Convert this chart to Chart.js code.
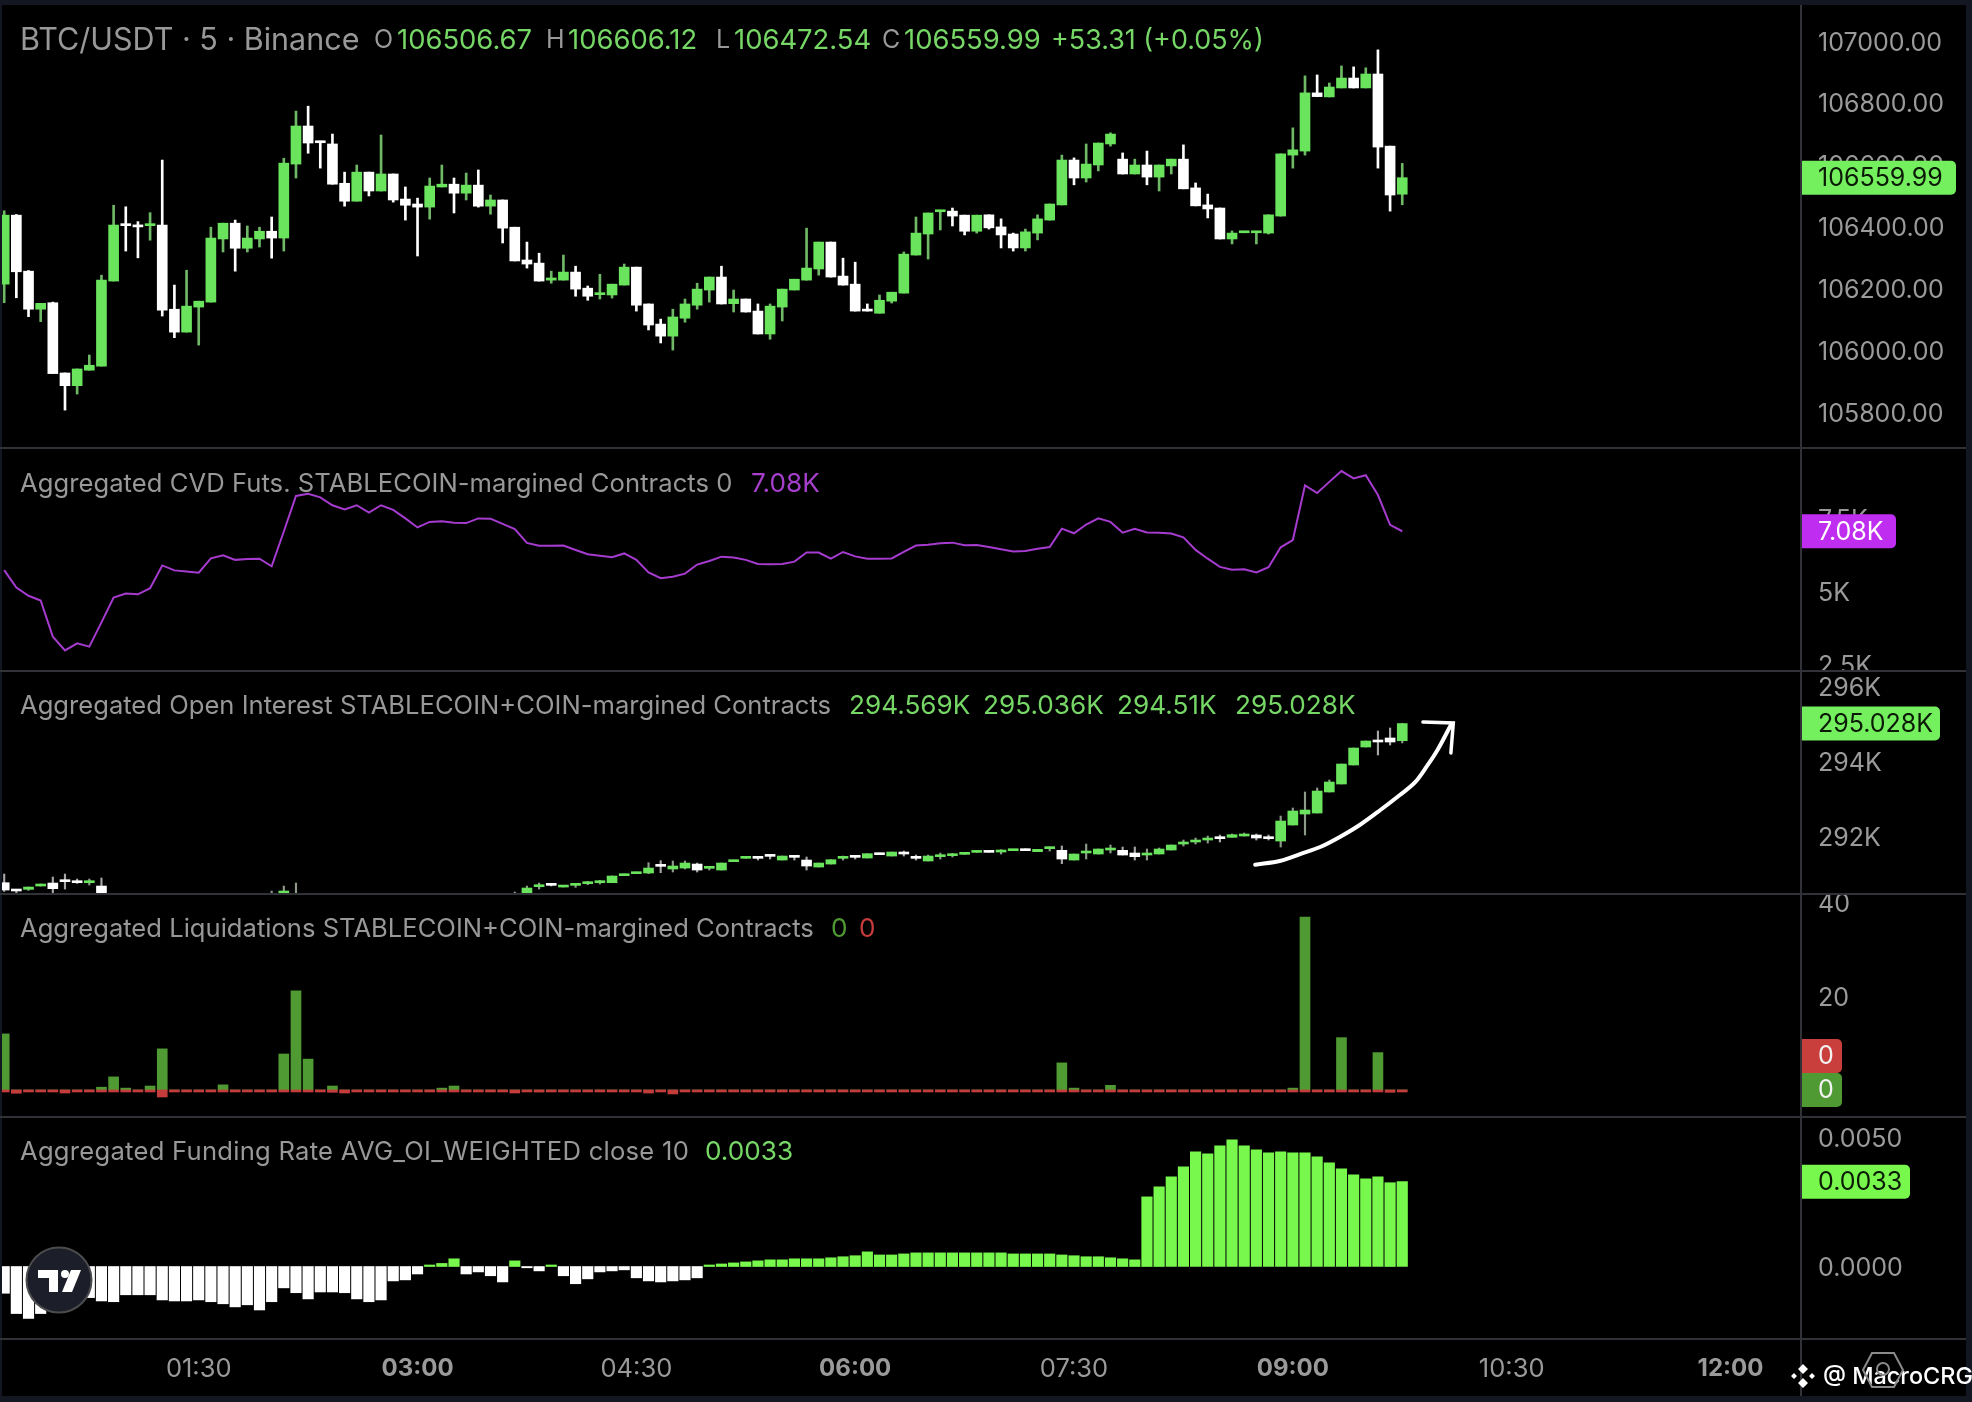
<!DOCTYPE html>
<html><head><meta charset="utf-8">
<script src="https://cdn.jsdelivr.net/npm/chart.js@4"></script>
<style>
html,body{margin:0;padding:0;background:#000;width:1972px;height:1402px;overflow:hidden;font-family:Inter,sans-serif}
canvas{position:absolute;left:0}
.band{position:absolute;background:#131722;z-index:3}
.rule{position:absolute;background:#303238;z-index:4}
.t{position:absolute;white-space:pre;z-index:5;font-size:25.6px;line-height:30px;color:#989898}
.v{font-size:26.2px}
.h{font-size:27.6px}
.g{color:#76d766}.p{color:#a63fcb}.dg{color:#4f9a33}.dr{color:#c43c3b}
</style></head><body>
<div class="band" style="left:0;top:0;width:1972px;height:5px"></div>
<div class="band" style="left:0;top:0;width:2px;height:1402px"></div>
<div class="band" style="left:1966px;top:0;width:6px;height:1402px"></div>
<div class="band" style="left:0;top:1396px;width:1972px;height:6px"></div>
<div class="rule" style="left:1800px;top:5px;width:2px;height:1391px"></div>
<div class="rule" style="left:0;top:447px;width:1966px;height:2px"></div>
<div class="rule" style="left:0;top:670px;width:1966px;height:2px"></div>
<div class="rule" style="left:0;top:893px;width:1966px;height:2px"></div>
<div class="rule" style="left:0;top:1116px;width:1966px;height:2px"></div>
<div class="rule" style="left:0;top:1338px;width:1966px;height:2px"></div>

<div class="t" style="left:20px;top:24px;font-size:30.5px">BTC/USDT · 5 · Binance</div>
<div class="t h" style="left:374px;top:24px;font-size:25px">O</div><div class="t g h" style="left:397px;top:24px;font-size:27.4px">106506.67</div>
<div class="t h" style="left:546px;top:24px;font-size:25px">H</div><div class="t g h" style="left:568px;top:24px;font-size:27.4px">106606.12</div>
<div class="t h" style="left:716px;top:24px;font-size:25px">L</div><div class="t g h" style="left:734px;top:24px;font-size:27.4px">106472.54</div>
<div class="t h" style="left:882px;top:24px;font-size:25px">C</div><div class="t g h" style="left:904px;top:24px;font-size:27.4px">106559.99</div>
<div class="t g" style="left:1051px;top:24px;font-size:26.9px">+53.31 (+0.05%)</div>

<div class="t" style="left:20px;top:468px;letter-spacing:.05px">Aggregated CVD Futs. STABLECOIN-margined Contracts 0</div>
<div class="t p v" style="left:751px;top:468px">7.08K</div>

<div class="t" style="left:20px;top:690px">Aggregated Open Interest STABLECOIN+COIN-margined Contracts</div>
<div class="t g v" style="left:849px;top:690px">294.569K</div>
<div class="t g v" style="left:983px;top:690px">295.036K</div>
<div class="t g v" style="left:1117px;top:690px">294.51K</div>
<div class="t g v" style="left:1235px;top:690px">295.028K</div>

<div class="t" style="left:20px;top:913px">Aggregated Liquidations STABLECOIN+COIN-margined Contracts</div>
<div class="t dg v" style="left:831px;top:913px">0</div>
<div class="t dr v" style="left:859px;top:913px">0</div>

<div class="t" style="left:20px;top:1136px;letter-spacing:.26px">Aggregated Funding Rate AVG_OI_WEIGHTED close 10</div>
<div class="t g v" style="left:705px;top:1136px">0.0033</div>

<svg style="position:absolute;left:24px;top:1246px;z-index:6" width="70" height="70" viewBox="0 0 70 70">
<circle cx="35" cy="34" r="32.5" fill="#1c1f2a" stroke="#4c4c4e" stroke-width="2"/>
<path d="M14 24h20v22h-9V32H14z" fill="#fff"/><circle cx="41" cy="28" r="4" fill="#fff"/><path d="M47 24h10l-9 22H38z" fill="#fff"/>
</svg>
<svg style="position:absolute;left:1860px;top:1350px;z-index:6" width="46" height="40" viewBox="0 0 46 40">
<path d="M12 3h22l9 17-9 17H12L3 20z" fill="none" stroke="#8a8a8a" stroke-width="2"/><circle cx="23" cy="19" r="6" fill="none" stroke="#8a8a8a" stroke-width="2"/>
</svg>
<svg style="position:absolute;left:1789px;top:1362px;z-index:6" width="28" height="28" viewBox="0 0 28 28">
<path d="M14 2l5 5-5 5-5-5zM5 11l3 3-3 3-3-3zM23 11l3 3-3 3-3-3zM14 16l5 5-5 5-5-5z" fill="#fff"/>
</svg>
<div class="t" style="left:1823px;top:1361px;color:#fff;font-size:23.4px;font-weight:500">@ MacroCRG</div>

<canvas id="c0" style="top:5px" width="1966" height="443"></canvas>
<canvas id="c1" style="top:448px" width="1966" height="223"></canvas>
<canvas id="c2" style="top:671px" width="1966" height="223"></canvas>
<canvas id="c3" style="top:894px" width="1966" height="223"></canvas>
<canvas id="c4" style="top:1117px" width="1966" height="279"></canvas>

<script>
const priceOpen=[106216,106439,106258,106135,106156,105929,105888,105938,105951,106226,
106409,106407,106405,106407,106135,106061,106142,106158,106362,106413,
106332,106362,106387,106365,106604,106727,106678,106669,106542,106484,
106578,106517,106572,106491,106475,106465,106530,106539,106510,106536,
106468,106488,106400,106294,106284,106229,106229,106255,106203,106182,
106181,106213,106271,106152,106087,106048,106106,106148,106197,106239,
106153,106168,106129,106055,106142,106197,106229,106265,106352,106242,
106216,106134,106122,106161,106187,106310,106378,106450,106452,106439,
106387,106440,106401,106378,106333,106381,106423,106472,106617,106559,
106601,106669,106620,106572,106601,106562,106598,106620,106527,106472,
106462,106362,106382,106382,106381,106436,106633,106646,106834,106821,
106850,106882,106850,106895,106662,106506.67];
const priceHigh=[106453,106441,106260,106154,106158,105929,105942,105987,106245,106471,
106466,106418,106447,106617,106213,106261,106161,106400,106413,106423,
106404,106400,106433,106623,106775,106791,106678,106701,106578,106601,
106578,106698,106572,106530,106494,106559,106601,106559,106575,106585,
106504,106488,106400,106352,106316,106258,106310,106274,106210,106248,
106216,106281,106271,106152,106103,106135,106168,106219,106239,106274,
106197,106168,106152,106152,106200,106232,106397,106352,106352,106300,
106287,106152,106181,106190,106320,106433,106446,106454,106462,106439,
106439,106440,106427,106381,106394,106440,106475,106633,106624,106669,
106672,106705,106640,106620,106646,106601,106620,106666,106543,106507,
106462,106388,106387,106387,106440,106637,106721,106889,106892,106866,
106921,106918,106915,106973,106662,106606.12];
const priceLow=[106156,106172,106111,106095,105927,105809,105861,105938,105951,106226,
106323,106301,106358,106113,106043,106061,106019,106158,106320,106258,
106320,106336,106300,106323,106559,106639,106591,106539,106468,106484,
106501,106517,106481,106423,106307,106426,106530,106446,106488,106465,
106442,106349,106291,106268,106226,106219,106229,106177,106164,106168,
106171,106213,106129,106068,106026,106003,106093,106135,106158,106152,
106126,106126,106055,106038,106097,106197,106229,106245,106239,106213,
106129,106129,106122,106155,106187,106310,106297,106391,106404,106375,
106381,106394,106333,106323,106323,106359,106423,106472,106537,106546,
106582,106662,106572,106572,106537,106517,106572,106524,106469,106430,
106362,106346,106382,106346,106378,106436,106591,106633,106822,106821,
106850,106850,106850,106591,106452,106472.54];
const priceClose=[106439,106256,106135,106154,105927,105888,105942,105954,106229,106407,
106405,106401,106409,106132,106061,106145,106161,106365,106413,106332,
106365,106387,106365,106607,106727,106672,106673,106539,106484,106578,
106517,106572,106488,106471,106465,106533,106539,106510,106536,106468,
106488,106397,106291,106281,106226,106236,106255,106200,106177,106187,
106216,106271,106148,106084,106048,106110,106152,106200,106239,106152,
106168,106126,106055,106145,106200,106232,106268,106352,106239,106213,
106129,106129,106164,106190,106313,106381,106446,106454,106436,106387,
106439,106398,106375,106333,106385,106427,106475,106617,106559,106604,
106672,106701,106572,106601,106562,106601,106620,106524,106469,106459,
106362,106381,106387,106387,106440,106637,106650,106834,106822,106853,
106882,106850,106895,106659,106504,106559.99];

const cvdValues=[5.75,5.15,4.87,4.71,3.47,3.00,3.24,3.13,3.96,4.81,
4.95,4.92,5.13,5.91,5.74,5.70,5.66,6.15,6.26,6.10,
6.13,6.14,5.88,7.07,8.29,8.36,8.24,7.97,7.83,7.97,
7.72,7.97,7.81,7.52,7.21,7.40,7.42,7.37,7.36,7.52,
7.51,7.33,7.15,6.68,6.58,6.58,6.59,6.44,6.29,6.24,
6.19,6.32,6.10,5.67,5.47,5.52,5.63,5.94,6.06,6.21,
6.18,6.10,5.96,5.95,5.96,6.04,6.35,6.35,6.14,6.37,
6.22,6.14,6.14,6.15,6.37,6.59,6.62,6.67,6.69,6.60,
6.61,6.54,6.46,6.39,6.40,6.48,6.54,7.17,7.01,7.31,
7.52,7.40,7.03,7.16,7.04,7.03,7.00,6.87,6.44,6.14,
5.86,5.76,5.78,5.67,5.85,6.53,6.78,8.65,8.39,8.77,
9.14,8.89,9.00,8.32,7.30,7.08];

const oiOpen=[290.773,290.595,290.595,290.684,290.764,290.836,290.818,290.773,290.684,
null,null,null,null,null,null,null,null,null,null,null,null,null,null,290.488,null,
null,null,null,null,null,null,null,null,null,null,null,null,null,null,null,null,null,null,
290.506,290.666,290.738,290.657,290.702,290.747,290.773,290.773,290.961,291.014,
291.032,291.246,291.139,291.165,291.272,291.157,291.112,291.335,291.424,291.451,
291.513,291.379,291.486,291.379,291.192,291.272,291.424,291.486,291.433,
291.558,291.486,291.567,291.460,291.353,291.469,291.495,291.531,291.584,
291.620,291.593,291.629,291.674,291.602,291.683,291.638,291.379,291.567,291.540,
291.647,291.638,291.567,291.513,291.540,291.647,291.807,291.861,291.914,291.994,
291.986,292.021,292.048,292.003,291.887,292.315,292.609,292.636,293.198,293.412,
293.920,294.401,294.588,294.642,294.569];
const oiHigh=[291.005,290.595,290.657,290.738,290.925,291.005,290.871,290.871,290.898,
null,null,null,null,null,null,null,null,null,null,null,null,null,290.55,290.684,290.764,
null,null,null,null,null,null,null,null,null,null,null,null,null,null,null,null,null,290.524,
290.684,290.764,290.756,290.693,290.756,290.809,290.836,290.952,291.005,291.059,
291.308,291.362,291.353,291.353,291.299,291.201,291.299,291.379,291.460,291.460,
291.522,291.486,291.495,291.460,291.299,291.388,291.486,291.495,291.549,
291.567,291.593,291.620,291.513,291.513,291.567,291.558,291.567,291.620,
291.629,291.656,291.665,291.683,291.665,291.727,291.754,291.540,291.807,291.674,
291.781,291.727,291.727,291.674,291.700,291.781,291.914,291.968,292.021,292.048,
292.075,292.101,292.075,292.048,292.556,292.770,293.198,293.305,293.519,293.946,
294.374,294.561,294.829,294.909,295.036];
const oiLow=[290.54,290.488,290.568,290.684,290.488,290.604,290.756,290.711,290.488,
null,null,null,null,null,null,null,null,null,null,null,null,null,290.3,290.488,290.3,
null,null,null,null,null,null,null,null,null,null,null,null,null,null,null,null,null,290.3,
290.488,290.604,290.684,290.657,290.649,290.720,290.738,290.773,290.961,291.014,
291.014,291.041,291.059,291.139,291.059,291.112,291.112,291.335,291.424,291.379,
291.406,291.379,291.379,291.112,291.192,291.272,291.379,291.406,291.433,
291.522,291.486,291.486,291.379,291.353,291.406,291.460,291.531,291.584,
291.584,291.540,291.629,291.629,291.602,291.620,291.281,291.379,291.406,291.540,
291.567,291.513,291.379,291.379,291.540,291.647,291.754,291.807,291.834,291.861,
291.986,292.021,291.914,291.914,291.727,292.315,292.048,292.636,293.198,293.412,
293.920,294.401,294.187,294.454,294.51];
const oiClose=[290.577,290.551,290.657,290.738,290.613,290.800,290.773,290.818,290.506,
null,null,null,null,null,null,null,null,null,null,null,null,null,null,290.551,null,
null,null,null,null,null,null,null,null,null,null,null,null,null,null,null,null,null,null,
290.631,290.711,290.702,290.693,290.738,290.782,290.809,290.952,291.005,291.059,
291.165,291.210,291.219,291.299,291.112,291.192,291.299,291.379,291.460,291.424,
291.477,291.486,291.451,291.219,291.299,291.388,291.460,291.451,291.549,
291.522,291.593,291.540,291.424,291.486,291.513,291.540,291.567,291.620,
291.584,291.647,291.665,291.629,291.665,291.727,291.406,291.540,291.620,291.674,
291.700,291.513,291.469,291.567,291.674,291.781,291.861,291.914,291.968,291.950,
292.057,292.075,291.968,291.950,292.422,292.690,292.716,293.224,293.465,293.946,
294.374,294.561,294.535,294.535,295.028];

const arrowCurveX=[102.9,105.0,106.6,108.3,109.9,111.5,113.2,114.8,116.1,117.0,117.9,119.0];
const arrowCurveY=[291.254,291.361,291.54,291.735,292.003,292.316,292.717,293.118,293.473,293.874,294.321,294.989];
const arrowHeadX=[116.7,119.2,119.0];
const arrowHeadY=[295.07,295.043,294.241];

const liqLong=[12,0,0,0,0,0,0,0,0.6,2.8,
0.4,0,0.85,8.8,0,0,0,0,1.1,0,
0,0,0,7.7,21.2,6.6,0,0.85,0,0,
0,0,0,0,0,0,0.4,0.85,0,0,
0,0,0,0,0,0,0,0,0,0,
0,0,0,0,0,0,0,0,0,0,
0,0,0,0,0,0,0,0,0,0,
0,0,0,0,0,0,0,0,0,0,
0,0,0,0,0,0,0,5.8,0.4,0,
0,1,0,0,0,0,0,0,0,0,
0,0,0,0,0,0,0.4,37,0,0,
11.2,0,0,8,0,0];
const liqShort=[-0.25,-0.7,-0.25,-0.25,-0.25,-0.65,-0.25,-0.25,-0.25,-0.25,
-0.25,-0.25,-0.25,-1.5,-0.25,-0.25,-0.25,-0.25,-0.25,-0.25,
-0.25,-0.25,-0.25,-0.25,-0.25,-0.25,-0.25,-0.5,-0.65,-0.25,
-0.25,-0.25,-0.25,-0.25,-0.25,-0.25,-0.25,-0.25,-0.25,-0.25,
-0.25,-0.25,-0.65,-0.25,-0.45,-0.25,-0.25,-0.25,-0.25,-0.25,
-0.25,-0.25,-0.25,-0.65,-0.4,-0.85,-0.25,-0.25,-0.25,-0.25,
-0.25,-0.25,-0.25,-0.25,-0.25,-0.25,-0.25,-0.25,-0.25,-0.25,
-0.25,-0.25,-0.25,-0.25,-0.25,-0.25,-0.25,-0.25,-0.25,-0.25,
-0.25,-0.25,-0.25,-0.25,-0.25,-0.25,-0.25,-0.25,-0.25,-0.25,
-0.25,-0.25,-0.25,-0.25,-0.25,-0.25,-0.25,-0.25,-0.25,-0.25,
-0.25,-0.25,-0.25,-0.25,-0.25,-0.25,-0.25,-0.25,-0.25,-0.25,
-0.25,-0.25,-0.25,-0.25,-0.5,-0.25];

const fundingValues=[-0.00104,-0.00183,-0.00202,-0.00183,-0.00169,-0.00156,-0.00136,-0.00121,-0.00134,-0.00137,
-0.00110,-0.00110,-0.00110,-0.00130,-0.00134,-0.00134,-0.00130,-0.00137,-0.00145,-0.00157,
-0.00149,-0.00169,-0.00137,-0.00083,-0.00102,-0.00126,-0.00099,-0.00099,-0.00102,-0.00126,
-0.00137,-0.00130,-0.00056,-0.00052,-0.00029,0.00006,0.00012,0.00030,-0.00029,-0.00021,
-0.00036,-0.00060,0.00022,-0.00005,-0.00017,0.00006,-0.00036,-0.00067,-0.00048,-0.00021,
-0.00017,-0.00013,-0.00044,-0.00056,-0.00060,-0.00056,-0.00052,-0.00044,0.00006,0.00010,
0.00014,0.00018,0.00022,0.00026,0.00026,0.00030,0.00030,0.00030,0.00034,0.00038,
0.00042,0.00057,0.00045,0.00045,0.00049,0.00053,0.00053,0.00053,0.00053,0.00053,
0.00053,0.00053,0.00053,0.00049,0.00049,0.00049,0.00049,0.00045,0.00042,0.00038,
0.00038,0.00034,0.00030,0.00026,0.00271,0.00310,0.00349,0.00388,0.00446,0.00438,
0.00470,0.00493,0.00470,0.00454,0.00442,0.00446,0.00442,0.00442,0.00427,0.00403,
0.00380,0.00357,0.00341,0.00349,0.00326,0.0033];

const timeTickIndex=[16,34,52,70,88,106,124,142];
const timeTickLabels=['01:30','03:00','04:30','06:00','07:30','09:00','10:30','12:00'];
const timeTickBold=[false,true,false,true,false,true,false,true];
const priceTicks=[107000,106800,106600,106400,106200,106000,105800];
const cvdTicks=[7.5,5,2.5];
const oiTicks=[296,294,292];
const liqTicks=[40,20];
const fundingTicks=[0.005,0];

const TICK={family:'Inter',size:25};
const GREEN='#6ae45d',WHITE='#ffffff',FUND='#78f84c';
const X_MIN=-0.3455,X_MAX=147.8;

function tagPlugin(tags){return{id:'tags',afterDraw(ch){
  const c=ch.ctx,y=ch.scales.y,L=ch.chartArea.right;
  tags.forEach(t=>{
    c.save();c.font=TICK.size+'px '+TICK.family;
    const py=y.getPixelForValue(t.value)+(t.dy||0);
    c.fillStyle=t.bg;c.beginPath();c.roundRect(L,py-17,t.w,34,[0,5,5,0]);c.fill();
    c.fillStyle=t.fg;c.textBaseline='middle';c.textAlign='left';c.fillText(t.label,L+17,py+1);c.restore();
  });
}};}
function xScale(show){return{type:'linear',offset:false,min:X_MIN,max:X_MAX,display:show,
  grid:{display:false},border:{display:false},
  afterBuildTicks(s){s.ticks=timeTickIndex.map(v=>({value:v}));},
  afterFit(s){s.paddingLeft=0;s.paddingRight=0;if(show)s.height=57;},
  ticks:{autoSkip:false,maxRotation:0,padding:7,color:'#9a9a9a',
    callback:v=>timeTickLabels[timeTickIndex.indexOf(v)],
    font:ctx=>({family:'Inter',size:timeTickBold[ctx.index]?24:25.5,weight:timeTickBold[ctx.index]?'700':'400'})}};}
function yScale(min,max,vals,fmt){return{type:'linear',position:'right',min,max,
  grid:{display:false,drawTicks:false},border:{display:false},
  afterBuildTicks(s){s.ticks=vals.map(v=>({value:v}));},
  afterFit(s){s.width=165;s.paddingTop=0;s.paddingBottom=0;},
  ticks:{autoSkip:false,padding:17,labelOffset:1.5,color:'#9a9a9a',font:TICK,crossAlign:'near',callback:fmt}};}
function opts(ymin,ymax,vals,fmt,showX){return{responsive:false,animation:false,devicePixelRatio:1,
  layout:{padding:0},plugins:{legend:{display:false},tooltip:{enabled:false}},
  scales:{x:xScale(!!showX),y:yScale(ymin,ymax,vals,fmt)}};}
function candleSets(O,H,L,C,bodyW,wickW,wickUp,wickDown){
  const up=O.map((o,i)=>C[i]!=null&&C[i]>=o);
  return [
   {type:'bar',order:2,grouped:false,barThickness:wickW,maxBarThickness:wickW,barPercentage:1,categoryPercentage:1,
    data:H.map((h,i)=>({x:i,y:h==null?null:[L[i],h]})),
    backgroundColor:O.map((o,i)=>up[i]||o==null?wickUp:wickDown)},
   {type:'bar',order:1,grouped:false,barThickness:bodyW,maxBarThickness:bodyW,barPercentage:1,categoryPercentage:1,minBarLength:2,
    data:O.map((o,i)=>({x:i,y:o==null?null:[o,C[i]]})),
    backgroundColor:up.map(u=>u?GREEN:WHITE)}];
}
const barBase={type:'bar',grouped:false,barPercentage:1,categoryPercentage:1};

new Chart('c0',{data:{datasets:candleSets(priceOpen,priceHigh,priceLow,priceClose,10,2,'#6fb866',WHITE)},
  options:opts(105686.6,107118,priceTicks,v=>v.toFixed(2)),
  plugins:[tagPlugin([{value:106559.99,label:'106559.99',bg:'#74f05e',fg:'#0a1a05',w:155}])]});

new Chart('c1',{data:{datasets:[{type:'line',data:cvdValues.map((y,x)=>({x,y})),borderColor:'#a63bcf',borderWidth:2,pointRadius:0,tension:0}]},
  options:opts(2.295,9.93,cvdTicks,v=>v+'K'),
  plugins:[tagPlugin([{value:7.08,label:'7.08K',bg:'#bf2df0',fg:'#ffffff',w:95}])]});

new Chart('c2',{data:{datasets:[
  ...candleSets(oiOpen,oiHigh,oiLow,oiClose,10,1.5,'#8d9a89','#a6a6a6'),
  {type:'line',order:0,data:arrowCurveX.map((x,i)=>({x,y:arrowCurveY[i]})),borderColor:'#fff',borderWidth:4,pointRadius:0,cubicInterpolationMode:'monotone',borderCapStyle:'round'},
  {type:'line',order:0,data:arrowHeadX.map((x,i)=>({x,y:arrowHeadY[i]})),borderColor:'#fff',borderWidth:3.5,pointRadius:0,tension:0,borderCapStyle:'round'}]},
  options:opts(290.471,296.433,oiTicks,v=>v+'K'),
  plugins:[tagPlugin([{value:295.028,label:'295.028K',bg:'#74f05e',fg:'#0a1a05',w:139}])]});

new Chart('c3',{data:{datasets:[
  {...barBase,order:2,barThickness:10,maxBarThickness:10,data:liqLong.map((y,x)=>({x,y})),backgroundColor:'#4f9a33'},
  {...barBase,order:1,barThickness:10,maxBarThickness:10,minBarLength:2,data:liqShort.map((y,x)=>({x,y})),backgroundColor:'#c43c3b'}]},
  options:opts(-5.78,41.93,liqTicks,v=>String(v)),
  plugins:[tagPlugin([{value:0,label:'0',bg:'#c93f3b',fg:'#f2f2f2',dy:-34,w:41},{value:0,label:'0',bg:'#4f9a33',fg:'#f2f2f2',w:41}])]});

new Chart('c4',{data:{datasets:[
  {...barBase,barThickness:10.5,maxBarThickness:10.5,data:fundingValues.map((y,x)=>({x,y})),
   backgroundColor:fundingValues.map(v=>v>=0?FUND:WHITE)}]},
  options:opts(-0.00282,0.005817,fundingTicks,v=>v.toFixed(4),true),
  plugins:[tagPlugin([{value:0.0033,label:'0.0033',bg:'#78f84c',fg:'#0a1a05',w:109}])]});
</script>
</body></html>
